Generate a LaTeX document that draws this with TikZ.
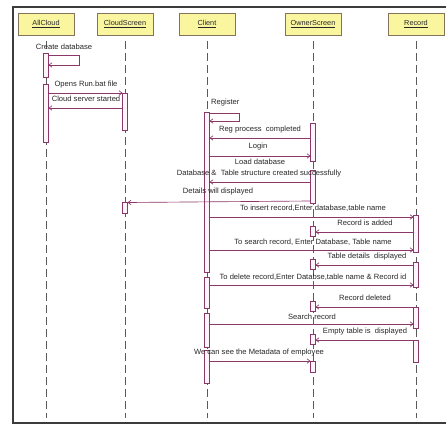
\documentclass[tikz,border=0pt]{standalone}
\usepackage{fontspec}
\setmainfont{Liberation Sans}
\usetikzlibrary{arrows.meta}
\definecolor{arrowc}{RGB}{140,55,105}
\definecolor{actfill}{RGB}{253,245,250}
\definecolor{heady}{RGB}{250,246,160}
\definecolor{headb}{RGB}{130,115,90}
\definecolor{lifec}{RGB}{90,90,90}
\definecolor{framec}{RGB}{60,60,60}
\definecolor{txtc}{RGB}{40,40,40}
\newcommand{\actbar}[4]{\node[actbox, minimum height={(#4)-(#3)}] (#1) at (#2,{((#3)+(#4))/2}) {};}
\begin{document}
\begin{tikzpicture}[x=1pt,y=-1pt,
  msg/.style={draw=arrowc, line width=0.65pt, -{Straight Barb[length=3pt,width=4.5pt]}},
  actbox/.style={draw=arrowc, fill=actfill, line width=0.55pt, minimum width=5pt, inner sep=0, outer sep=0},
  lbl/.style={font=\fontsize{7.6}{8}\selectfont, text=txtc, inner sep=0},
  headbox/.style={draw=headb, fill=heady, minimum width=56pt, minimum height=22pt, line width=0.8pt, inner sep=0, font=\fontsize{7.3}{8}\selectfont, text=txtc},
  lifeline/.style={draw=lifec, dash pattern=on 8pt off 4pt, line width=0.7pt}]
\useasboundingbox (0,0) rectangle (446,425);
\fill[white] (0,0) rectangle (446,425);
% frame
\draw[line width=1.6pt, framec] (446,7) -- (13,7) -- (13,423) -- (446,423);
% headers
\node[headbox] (hac) at (46,24) {\underline{AllCloud}};
\node[headbox] (hcs) at (125,24) {\underline{CloudScreen}};
\node[headbox] (hcl) at (207,24) {\underline{Client}};
\node[headbox] (hos) at (313,24) {\underline{OwnerScreen}};
\node[headbox] (hre) at (416,24) {\underline{Record}};
% lifeline ends
\coordinate (eac) at (46,418);
\coordinate (ecs) at (125,418);
\coordinate (ecl) at (207,418);
\coordinate (eos) at (313,418);
\coordinate (ere) at (416,418);
\draw[lifeline] (hac.south) ++(0,6) -- (eac);
\draw[lifeline] (hcs.south) ++(0,6) -- (ecs);
\draw[lifeline] (hcl.south) ++(0,6) -- (ecl);
\draw[lifeline] (hos.south) ++(0,6) -- (eos);
\draw[lifeline] (hre.south) ++(0,6) -- (ere);
% activation bars
\actbar{ac1}{46}{53}{77}
\actbar{ac2}{46}{84}{142}
\actbar{cs1}{125}{93}{130}
\actbar{cs2}{125}{202}{213}
\actbar{cl1}{207}{112}{272}
\actbar{cl2}{207}{277}{308}
\actbar{cl3}{207}{313}{347}
\actbar{cl4}{207}{350}{383}
\actbar{os1}{313}{123}{161}
\actbar{os2}{313}{170}{203}
\actbar{os3}{313}{226}{236}
\actbar{os4}{313}{259}{269}
\actbar{os5}{313}{301}{311}
\actbar{os6}{313}{334}{344}
\actbar{os7}{313}{361}{372}
\actbar{re1}{416}{215}{252}
\actbar{re2}{416}{262}{287}
\actbar{re3}{416}{307}{328}
\actbar{re4}{416}{340}{362}
% messages
\node[lbl] (l1) at (64,47) {Create database};
\draw[msg] (ac1.east |- 0,55) -- (79,55) -- (79,65) -- (ac1.east |- 0,65);
\node[lbl] (l2) at (86,85) {Opens Run.bat file};
\draw[msg] (ac2.east |- 0,93) -- (cs1.west |- 0,93);
\node[lbl] (l3) at (86,99) {Cloud server started};
\draw[msg] (cs1.west |- 0,108) -- (ac2.east |- 0,108);
\node[lbl, anchor=west] (l4) at (211,103) {Register};
\draw[msg] (cl1.east |- 0,113) -- (239,113) -- (239,121) -- (cl1.east |- 0,121);
\node[lbl] (l5) at (260,130) {Reg process \ completed};
\draw[msg] (os1.west |- 0,138) -- (cl1.east |- 0,138);
\node[lbl] (l6) at (258,147) {Login};
\draw[msg] (cl1.east |- 0,156) -- (os1.west |- 0,156);
\node[lbl] (l7) at (260,162) {Load database};
\node[lbl] (l8) at (259,174) {Database \& \ Table structure created successfully};
\draw[msg] (os2.west |- 0,182) -- (cl1.east |- 0,182);
\node[lbl] (l9) at (218,192) {Details will displayed};
\draw[msg] (os2.west |- 0,201) -- (cs2.east |- 0,202.5);
\node[lbl] (l10) at (313,208) {To insert record,Enter database,table name};
\draw[msg] (cl1.east |- 0,217) -- (re1.west |- 0,217);
\node[lbl] (l11) at (365,223) {Record is added};
\draw[msg] (re1.west |- 0,232) -- (os3.east |- 0,232);
\node[lbl] (l12) at (313,242) {To search record, Enter Database, Table name};
\draw[msg] (cl1.east |- 0,250) -- (re1.west |- 0,250);
\node[lbl] (l13) at (367,257) {Table details \ displayed};
\draw[msg] (re2.west |- 0,265) -- (os4.east |- 0,265);
\node[lbl] (l14) at (313,277) {To delete record,Enter Databse,table name \& Record id};
\draw[msg] (cl2.east |- 0,285) -- (re2.west |- 0,285);
\node[lbl] (l15) at (365,298) {Record deleted};
\draw[msg] (re3.west |- 0,307) -- (os5.east |- 0,307);
\node[lbl] (l16) at (312,317) {Search record};
\draw[msg] (cl3.east |- 0,324) -- (re3.west |- 0,324);
\node[lbl] (l17) at (365,332) {Empty table is \ displayed};
\draw[msg] (re4.west |- 0,340) -- (os6.east |- 0,340);
\node[lbl] (l18) at (259,353) {We can see the Metadata of employee};
\draw[msg] (cl4.east |- 0,361) -- (os7.west |- 0,361);
\end{tikzpicture}
\end{document}
